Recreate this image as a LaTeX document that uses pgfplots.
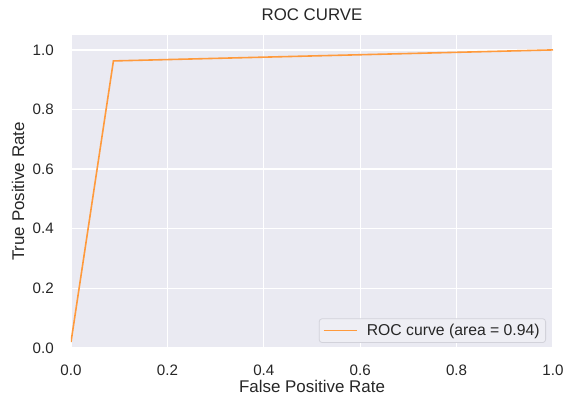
\documentclass[border=0pt]{standalone}
\usepackage{pgfplots}
\pgfplotsset{compat=1.18}
\usepackage{fontspec}
\setmainfont{Liberation Sans}
\definecolor{bg}{HTML}{EAEAF2}
\definecolor{txt}{HTML}{262626}
\definecolor{roc}{HTML}{FF9A3C}
\definecolor{legbg}{HTML}{EEEEF4}
\definecolor{legdraw}{HTML}{D2D2DA}
\begin{document}
\begin{tikzpicture}
\begin{axis}[
  scale only axis, width=482bp, height=313bp,
  xmin=0, xmax=1, ymin=0, ymax=1.05,
  xtick={0,0.2,0.4,0.6,0.8,1.0},
  ytick={0,0.2,0.4,0.6,0.8,1.0},
  xticklabels={0.0,0.2,0.4,0.6,0.8,1.0},
  yticklabels={0.0,0.2,0.4,0.6,0.8,1.0},
  axis background/.style={fill=bg},
  axis line style={draw=none},
  major tick length=0pt,
  grid=major,
  major grid style={white, line width=1.3bp},
  tick label style={font=\fontsize{15.2}{18}\selectfont, text=txt, inner sep=0pt},
  xticklabel style={anchor=north, yshift=-17bp},
  yticklabel style={anchor=east, xshift=-17bp},
  title={ROC CURVE},
  title style={at={(0.5,1)}, anchor=base, yshift=9bp, font=\fontsize{16.9}{20}\selectfont, text=txt},
  xlabel={False Positive Rate},
  xlabel style={at={(0.5,0)}, anchor=base, yshift=-44.3bp, font=\fontsize{17}{20}\selectfont, text=txt},
  ylabel={True Positive Rate},
  ylabel style={at={(0,0.5)}, anchor=center, yshift=53bp, font=\fontsize{17}{20}\selectfont, text=txt},
  legend style={at={(1,0)}, anchor=south east, xshift=-7bp, yshift=5bp,
    fill=legbg, draw=legdraw, line width=0.8bp, rounded corners=3bp,
    font=\fontsize{15.8}{18}\selectfont, text=txt,
    inner xsep=3.5bp, inner ysep=3bp, nodes={inner sep=2.5bp},
    /tikz/every odd column/.append style={column sep=7bp}},
  legend cell align=left,
  legend image code/.code={\draw[#1] (0bp,0bp) -- (33bp,0bp);},
]
\addplot[roc, line width=1.6bp] coordinates {(0,0.02) (0.088,0.963) (1,1)};
\addlegendentry{ROC curve (area = 0.94)}
\end{axis}
\pgfresetboundingbox
\path (-71bp,-49bp) rectangle (493bp,348bp);
\end{tikzpicture}
\end{document}
